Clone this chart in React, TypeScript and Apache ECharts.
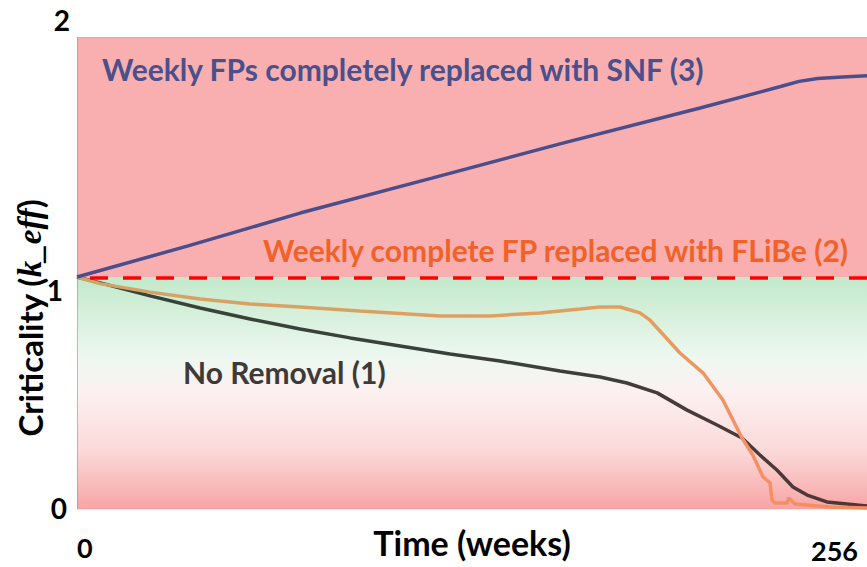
import React, { useEffect, useRef } from "react";
import * as echarts from "echarts";

// ---- data ----
const X_MIN = 0;
const X_MAX = 256;
const Y_MIN = 0;
const Y_MAX = 2;
const Y_INTERVAL = 0.2;
const xTickLabels = [0, 256];
const yTickLabels = [0, 1, 2];
const CRITICAL_LINE = 0.983;

const snfWeeks = [0, 36, 72.3, 115, 156.5, 201.9, 228, 234, 240, 248, 256];
const snfK = [0.983, 1.115, 1.254, 1.402, 1.547, 1.699, 1.79, 1.812, 1.824, 1.831, 1.836];

const flibeWeeks = [0, 7.5, 23.7, 39.9, 56.1, 72.3, 91.7, 117.6, 133.8, 150, 156.5, 163, 169.5, 176, 182.4, 185.7, 195.4, 202.9, 209.3, 215.5, 219, 222.3, 224.6, 225.2, 226.2, 230.1, 230.7, 232.7, 244, 256];
const flibeK = [0.983, 0.955, 0.919, 0.89, 0.869, 0.856, 0.839, 0.818, 0.818, 0.831, 0.839, 0.847, 0.856, 0.856, 0.831, 0.8, 0.661, 0.576, 0.462, 0.301, 0.229, 0.136, 0.11, 0.038, 0.025, 0.025, 0.047, 0.021, 0.008, 0.004];

const noRemovalWeeks = [0, 7.5, 23.7, 39.9, 56.1, 72.3, 88.5, 104.7, 120.9, 137.1, 156.5, 169.5, 178.2, 188, 197.7, 207.4, 215.5, 221.3, 226.8, 232, 236.6, 243, 256];
const noRemovalK = [0.983, 0.958, 0.903, 0.852, 0.805, 0.763, 0.725, 0.691, 0.657, 0.627, 0.585, 0.559, 0.534, 0.492, 0.419, 0.356, 0.301, 0.229, 0.165, 0.093, 0.059, 0.03, 0.013];

const annotations = [
  { text: "Weekly FPs completely replaced with SNF (3)", color: "#4B4F8B" },
  { text: "Weekly complete FP replaced with FLiBe (2)", color: "#F0622A" },
  { text: "No Removal (1)", color: "#3E3A39" },
];

// ---- layout / style ----
const FONT = "Lato, 'Open Sans', sans-serif";
const GRID = { left: 77, right: 0, top: 37, bottom: 58 };
const ANN_POS = [
  { x: 102, y: 69 },
  { x: 263, y: 250 },
  { x: 183, y: 372 },
];
const Y_LABEL_LAYOUT = [
  { dx: -10, dy: -1 },
  { dx: -14, dy: 17 },
  { dx: -7, dy: -17 },
];
const X_LABEL_LAYOUT = [
  { dx: 0, dy: 38, align: "left" },
  { dx: -9, dy: 41, align: "right" },
];

const zip = (xs: number[], ys: number[]) => xs.map((x, i) => [x, ys[i]]);

const hGrad = (stops: [number, string][]) =>
  new echarts.graphic.LinearGradient(
    0,
    0,
    1,
    0,
    stops.map(([offset, color]) => ({ offset, color }))
  );

export default function App() {
  const ref = useRef<HTMLDivElement>(null);

  useEffect(() => {
    const chart = echarts.init(ref.current!, null, { renderer: "svg" });

    const lowerGrad = new echarts.graphic.LinearGradient(0, 0, 0, 1, [
      { offset: 0, color: "#C2E9CB" },
      { offset: 0.35, color: "#EEF8F0" },
      { offset: 0.5, color: "#FDF0F0" },
      { offset: 0.75, color: "#FBD9D9" },
      { offset: 1, color: "#F8A4A4" },
    ]);

    const option: any = {
      animation: false,
      backgroundColor: "#ffffff",
      grid: { ...GRID, containLabel: false },
      xAxis: [
        {
          type: "value",
          min: X_MIN,
          max: X_MAX,
          z: 1,
          name: "Time (weeks)",
          nameLocation: "middle",
          nameGap: 16,
          nameTextStyle: {
            fontFamily: FONT,
            fontWeight: "bold",
            fontSize: 34,
            color: "#000",
            verticalAlign: "top",
          },
          axisLine: { show: false },
          axisTick: { show: false },
          axisLabel: { show: false },
          splitLine: { show: false },
        },
        {
          type: "value",
          position: "top",
          min: X_MIN,
          max: X_MAX,
          z: 1,
          axisLine: { show: true, lineStyle: { color: "#b8b8b8", width: 1 } },
          axisTick: { show: false },
          axisLabel: { show: false },
          splitLine: { show: false },
        },
      ],
      yAxis: {
        type: "value",
        min: Y_MIN,
        max: Y_MAX,
        interval: Y_INTERVAL,
        z: 1,
        axisLine: { show: true, lineStyle: { color: "rgba(150,150,150,0.6)", width: 1 } },
        axisTick: { show: false },
        axisLabel: { show: false },
        splitLine: { show: true, lineStyle: { color: "rgba(170,110,110,0.16)", width: 1 } },
      },
      series: [
        {
          name: "bg",
          type: "line",
          z: 0,
          silent: true,
          data: [[0, CRITICAL_LINE]],
          symbol: "none",
          lineStyle: { opacity: 0 },
          markArea: {
            silent: true,
            label: { show: false },
            data: [
              [
                { yAxis: CRITICAL_LINE, itemStyle: { color: "#F9AFAF" } },
                { yAxis: Y_MAX },
              ],
              [
                { yAxis: Y_MIN, itemStyle: { color: lowerGrad } },
                { yAxis: CRITICAL_LINE },
              ],
            ],
          },
          markLine: {
            silent: true,
            symbol: ["none", "none"],
            label: { show: false },
            lineStyle: { color: "#FF0000", width: 3.5, type: [18, 15], dashOffset: 20 },
            data: [{ yAxis: CRITICAL_LINE }],
          },
        },
        {
          name: "No Removal (1)",
          type: "line",
          z: 3,
          data: zip(noRemovalWeeks, noRemovalK),
          symbol: "none",
          lineStyle: {
            width: 3.5,
            color: hGrad([
              [0, "#36443A"],
              [0.6, "#3C3F3A"],
              [0.8, "#4A3A3A"],
              [1, "#4F3636"],
            ]),
          },
        },
        {
          name: "Weekly complete FP replaced with FLiBe (2)",
          type: "line",
          z: 4,
          data: zip(flibeWeeks, flibeK),
          symbol: "none",
          lineStyle: {
            width: 3.5,
            color: hGrad([
              [0, "#D4A265"],
              [0.7, "#E29F5E"],
              [0.84, "#F39264"],
              [1, "#F8895E"],
            ]),
          },
        },
        {
          name: "Weekly FPs completely replaced with SNF (3)",
          type: "line",
          z: 5,
          data: zip(snfWeeks, snfK),
          symbol: "none",
          lineStyle: { width: 3.5, color: "#4A4E8C" },
        },
      ],
    };

    chart.setOption(option);

    const graphics: any[] = [];
    annotations.forEach((a, i) => {
      graphics.push({
        type: "text",
        x: ANN_POS[i].x,
        y: ANN_POS[i].y,
        z: 10,
        style: {
          text: a.text,
          fill: a.color,
          font: `bold 30px ${FONT}`,
          align: "left",
          verticalAlign: "middle",
        },
      });
    });

    yTickLabels.forEach((v, i) => {
      const [px, py] = chart.convertToPixel({ gridIndex: 0 }, [X_MIN, v]) as number[];
      graphics.push({
        type: "text",
        x: px + Y_LABEL_LAYOUT[i].dx,
        y: py + Y_LABEL_LAYOUT[i].dy,
        z: 10,
        style: {
          text: String(v),
          fill: "#000",
          font: `bold 28px ${FONT}`,
          align: "right",
          verticalAlign: "middle",
        },
      });
    });

    xTickLabels.forEach((v, i) => {
      const [px, py] = chart.convertToPixel({ gridIndex: 0 }, [v, Y_MIN]) as number[];
      graphics.push({
        type: "text",
        x: px + X_LABEL_LAYOUT[i].dx,
        y: py + X_LABEL_LAYOUT[i].dy,
        z: 10,
        style: {
          text: String(v),
          fill: "#000",
          font: `bold 27px ${FONT}`,
          align: X_LABEL_LAYOUT[i].align,
          verticalAlign: "middle",
        },
      });
    });

    graphics.push({
      type: "text",
      x: 30,
      y: 318,
      rotation: Math.PI / 2,
      z: 10,
      style: {
        text: "{a|Criticality (}{b|k_eff}{a|)}",
        align: "center",
        verticalAlign: "middle",
        rich: {
          a: { fontFamily: FONT, fontWeight: "bold", fontSize: 33, fill: "#000" },
          b: {
            fontFamily: "'Liberation Serif', 'DejaVu Serif', serif",
            fontWeight: "bold",
            fontStyle: "italic",
            fontSize: 33,
            fill: "#000",
          },
        },
      },
    });

    chart.setOption({ graphic: graphics });

    return () => chart.dispose();
  }, []);

  return (
    <div
      ref={ref}
      style={{ position: "fixed", left: 0, top: 0, width: 867, height: 567 }}
    />
  );
}
